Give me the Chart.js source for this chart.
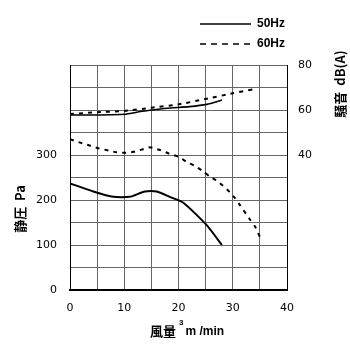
<!DOCTYPE html>
<html>
<head>
<meta charset="utf-8">
<script src="https://cdn.jsdelivr.net/npm/chart.js@4/dist/chart.umd.min.js"></script>
<style>
  html, body { margin: 0; padding: 0; background: #fff; }
  #c { display: block; }
</style>
</head>
<body>
<canvas id="c" width="350" height="350"></canvas>
<script>
// Static pressure curves (風量 m3/min -> 静圧 Pa)
const flow50P  = [0, 4.3, 8, 11, 13.8, 16, 18.4, 20.9, 25.2, 28];
const press50  = [237, 219, 207, 207, 219, 219, 207, 194, 144, 100];
const flow60P  = [0, 2, 3.6, 5.2, 7.1, 8.6, 10.1, 11.7, 13.2, 14.7, 16.6, 18.1, 20, 21.5, 23, 24.6, 25.8, 27.3, 29.4, 30.4, 31.3, 33.2, 34.1, 35];
const press60  = [335, 327, 321, 315, 310, 306, 305, 307, 312, 317, 311, 304, 296, 285, 276, 263, 252, 241, 218, 204, 189, 156, 141, 118];

// Noise curves (風量 m3/min -> 騒音 dB(A))
const flow50N  = [0, 5, 10, 13, 15, 18, 22, 25.2, 28];
const noise50  = [57.8, 57.8, 58.1, 59.3, 60, 60.8, 61.5, 62.5, 64.4];
const flow60N  = [0, 5, 10, 15, 20, 25, 30, 34];
const noise60  = [58.2, 59, 59.6, 61, 62.5, 64.9, 67.4, 69.3];

// Axis labels that are printed
const flowTicks     = [0, 10, 20, 30, 40];
const pressureTicks = [0, 100, 200, 300];
const noiseTicks    = [40, 60, 80];
const seriesNames   = ['50Hz', '60Hz'];

const zip = (xs, ys) => xs.map((x, i) => ({ x: x, y: ys[i] }));

const SOLID = [];
const DASH = [4, 5];

const datasets = [
  { label: seriesNames[0], data: zip(flow50P, press50), yAxisID: 'y',  borderDash: SOLID, borderWidth: 2 },
  { label: seriesNames[1], data: zip(flow60P, press60), yAxisID: 'y',  borderDash: DASH,  borderWidth: 2 },
  { label: seriesNames[0] + ' noise', data: zip(flow50N, noise50), yAxisID: 'y2', borderDash: SOLID, borderWidth: 1.6 },
  { label: seriesNames[1] + ' noise', data: zip(flow60N, noise60), yAxisID: 'y2', borderDash: DASH,  borderWidth: 2 }
].map(d => Object.assign({
  borderColor: '#000',
  backgroundColor: '#000',
  pointRadius: 0,
  tension: 0.2,
  fill: false
}, d));

const tickFont = { family: '"DejaVu Sans"', size: 11 };
const titleFont = 'bold 13px "Noto Sans CJK JP"';

// Axis titles and the stacked legend at the top right
const decorations = {
  id: 'decorations',
  afterDraw(chart) {
    const ctx = chart.ctx;
    const a = chart.chartArea;
    ctx.save();
    ctx.fillStyle = '#000';
    ctx.strokeStyle = '#000';

    // vertical titles
    ctx.font = titleFont;
    ctx.textAlign = 'center';
    ctx.textBaseline = 'middle';
    ctx.save();
    ctx.translate(a.left - 50, a.top + 144);
    ctx.rotate(-Math.PI / 2);
    ctx.fillText('静圧  Pa', 0, 0);
    ctx.restore();

    ctx.save();
    ctx.translate(a.right + 53, a.top + 19);
    ctx.rotate(-Math.PI / 2);
    ctx.fillText('騒音  dB(A)', 0, 0);
    ctx.restore();

    // flow title with superscript
    const y = a.bottom + 41;
    ctx.textAlign = 'left';
    let x = a.left + 80;
    ctx.fillText('風量', x, y);
    x += ctx.measureText('風量').width + 3;
    ctx.font = 'bold 8px "Liberation Sans"';
    ctx.fillText('3', x, y - 8);
    x += ctx.measureText('3').width + 2;
    ctx.font = 'bold 12px "Liberation Sans"';
    ctx.fillText('m /min', x, y + 1);

    // legend
    const lx0 = a.left + 130, lx1 = a.left + 181;
    ctx.font = 'bold 12px "Liberation Sans"';
    ctx.textBaseline = 'middle';
    [0, 1].forEach(i => {
      const ds = chart.data.datasets[i];
      const ly = a.top - 41 + i * 20;
      ctx.lineWidth = 1.5;
      ctx.setLineDash(i === 0 ? [] : [6, 5]);
      ctx.beginPath();
      ctx.moveTo(lx0, ly);
      ctx.lineTo(lx1, ly);
      ctx.stroke();
      ctx.setLineDash([]);
      ctx.fillText(ds.label, lx1 + 6, ly);
    });
    ctx.restore();
  }
};

new Chart(document.getElementById('c'), {
  type: 'line',
  data: { datasets: datasets },
  options: {
    responsive: false,
    animation: false,
    devicePixelRatio: 1,
    layout: { padding: { top: 65, left: 0, right: 0, bottom: 0 } },
    plugins: { legend: { display: false }, tooltip: { enabled: false } },
    scales: {
      x: {
        type: 'linear',
        min: 0, max: 40,
        afterFit: s => { s.height = 60; },
        ticks: {
          stepSize: 5,
          padding: 12,
          color: '#000',
          font: tickFont,
          maxRotation: 0,
          callback: v => flowTicks.includes(v) ? String(v) : ''
        },
        grid: { color: '#666', lineWidth: 1, drawTicks: false },
        border: { color: '#000', width: 2 }
      },
      y: {
        position: 'left',
        min: 0, max: 500,
        afterFit: s => { s.width = 70; },
        ticks: {
          stepSize: 50,
          padding: 13,
          color: '#000',
          font: tickFont,
          callback: v => pressureTicks.includes(v) ? String(v) : ''
        },
        grid: { color: '#666', lineWidth: 1, drawTicks: false },
        border: { color: '#000', width: 1 }
      },
      y2: {
        position: 'right',
        min: -20, max: 80,
        afterFit: s => { s.width = 63; },
        ticks: {
          stepSize: 10,
          padding: 11,
          color: '#000',
          font: tickFont,
          callback: v => noiseTicks.includes(v) ? String(v) : ''
        },
        grid: { display: false, drawTicks: false },
        border: { color: '#000', width: 1 }
      }
    }
  },
  plugins: [decorations]
});
</script>
</body>
</html>
